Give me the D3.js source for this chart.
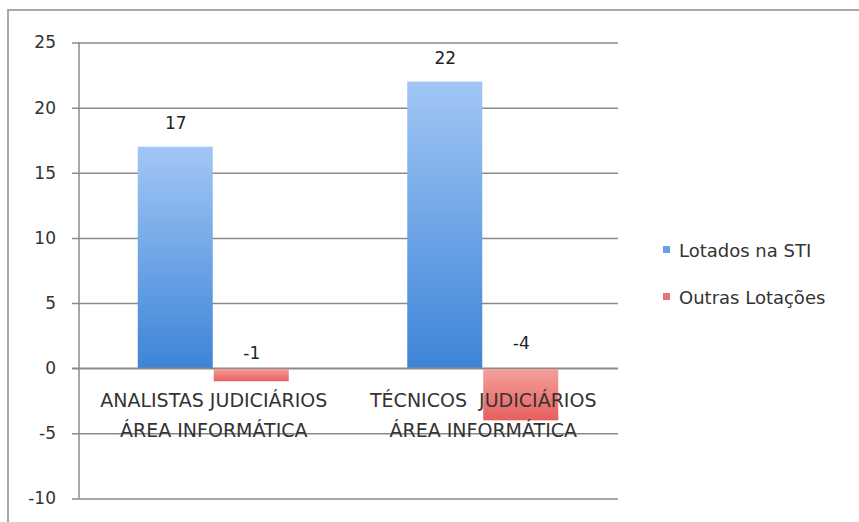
<!DOCTYPE html>
<html>
<head>
<meta charset="utf-8">
<script src="https://cdn.jsdelivr.net/npm/d3@7"></script>
<style>
  html, body { margin: 0; padding: 0; background: #fff; }
  svg { display: block; font-family: "DejaVu Sans", "Open Sans", sans-serif; }
</style>
</head>
<body>
<svg id="chart" width="859" height="522"></svg>
<script>
// Staff counts by position type and placement
const categories = [
  ["ANALISTAS JUDICIÁRIOS", "ÁREA INFORMÁTICA"],
  ["TÉCNICOS  JUDICIÁRIOS", "ÁREA INFORMÁTICA"]
];
const seriesNames = ["Lotados na STI", "Outras Lotações"];
const lotadosSTI = [17, 22];
const outrasLotacoes = [-1, -4];
const yTicks = [25, 20, 15, 10, 5, 0, -5, -10];

const svg = d3.select("#chart");
const W = 859, H = 522;

// outer chart frame
svg.append("rect")
  .attr("x", 8).attr("y", 10).attr("width", W).attr("height", H)
  .attr("fill", "#fff").attr("stroke", "#a9a9a9").attr("stroke-width", 2);

const plot = { left: 79, right: 618, top: 42.5, bottom: 498.5 };

const y = d3.scaleLinear().domain([-10, 25]).range([plot.bottom, plot.top]);
const x0 = d3.scaleBand().domain(d3.range(categories.length))
  .range([plot.left, plot.right]).paddingInner(0).paddingOuter(0);
const x1 = d3.scaleBand().domain(d3.range(seriesNames.length))
  .range([0, x0.bandwidth()]).paddingOuter(0.773).paddingInner(0);

// gradients for the bars
const defs = svg.append("defs");
const blueGrad = defs.append("linearGradient").attr("id", "gBlue")
  .attr("x1", 0).attr("y1", 0).attr("x2", 0).attr("y2", 1);
blueGrad.append("stop").attr("offset", "0%").attr("stop-color", "#a2c7f5");
blueGrad.append("stop").attr("offset", "100%").attr("stop-color", "#3d84d8");
const redGrad = defs.append("linearGradient").attr("id", "gRed")
  .attr("x1", 0).attr("y1", 0).attr("x2", 0).attr("y2", 1);
redGrad.append("stop").attr("offset", "0%").attr("stop-color", "#f5a29b");
redGrad.append("stop").attr("offset", "100%").attr("stop-color", "#e65f5f");
const fills = ["url(#gBlue)", "url(#gRed)"];
const legendFills = ["#6e9fe6", "#e0767a"];

// gridlines and y axis
const yAxis = d3.axisLeft(y).tickValues(yTicks).tickSize(plot.right - plot.left + 7)
  .tickPadding(16).tickFormat(d => String(d));
const gAxis = svg.append("g")
  .attr("transform", `translate(${plot.right},0)`)
  .call(yAxis);
gAxis.attr("font-family", null);
gAxis.select(".domain").remove();
gAxis.selectAll(".tick line").attr("stroke", "#8a8a8a").attr("stroke-width", 1.5);
gAxis.selectAll(".tick text")
  .attr("fill", "#333").attr("font-size", 17);

svg.append("line")
  .attr("x1", plot.left).attr("x2", plot.left)
  .attr("y1", plot.top).attr("y2", plot.bottom)
  .attr("stroke", "#8a8a8a").attr("stroke-width", 1.5);

// bars
const data = [lotadosSTI, outrasLotacoes];
const groups = svg.append("g").selectAll("g")
  .data(categories.map((c, i) => ({ i, values: data.map(s => s[i]) })))
  .join("g")
  .attr("transform", d => `translate(${x0(d.i)},0)`);

groups.selectAll("rect")
  .data(d => d.values.map((v, s) => ({ v, s })))
  .join("rect")
  .attr("x", d => x1(d.s))
  .attr("width", x1.bandwidth() - 1)
  .attr("y", d => y(Math.max(0, d.v)))
  .attr("height", d => Math.abs(y(d.v) - y(0)))
  .attr("fill", d => fills[d.s]);

// zero line drawn over bars
svg.append("line")
  .attr("x1", plot.left - 7).attr("x2", plot.right)
  .attr("y1", y(0)).attr("y2", y(0))
  .attr("stroke", "#8a8a8a").attr("stroke-width", 1.5);

// value labels
const negOffset = { "-1": 15, "-4": 25 };
groups.selectAll("text.val")
  .data(d => d.values.map((v, s) => ({ v, s })))
  .join("text")
  .attr("class", "val")
  .attr("x", d => x1(d.s) + x1.bandwidth() / 2)
  .attr("y", d => d.v >= 0 ? y(d.v) - 24 : y(0) - negOffset[d.v])
  .attr("text-anchor", "middle")
  .attr("dominant-baseline", "central")
  .attr("font-size", 17)
  .attr("fill", "#222")
  .text(d => d.v);

// category labels
groups.append("text")
  .attr("x", x0.bandwidth() / 2)
  .attr("text-anchor", "middle")
  .attr("font-size", 19)
  .attr("fill", "#333")
  .style("white-space", "pre")
  .selectAll("tspan")
  .data(d => categories[d.i])
  .join("tspan")
  .attr("x", x0.bandwidth() / 2)
  .attr("y", (d, k) => 407 + k * 30)
  .text(d => d);

// legend
const legend = svg.append("g").selectAll("g")
  .data(seriesNames)
  .join("g")
  .attr("transform", (d, i) => `translate(663,${250 + i * 47})`);
legend.append("rect")
  .attr("x", 0).attr("y", -4).attr("width", 7).attr("height", 7)
  .attr("fill", (d, i) => legendFills[i]);
legend.append("text")
  .attr("x", 16).attr("y", 0)
  .attr("dominant-baseline", "central")
  .attr("font-size", 18)
  .attr("fill", "#333")
  .text(d => d);
</script>
</body>
</html>
